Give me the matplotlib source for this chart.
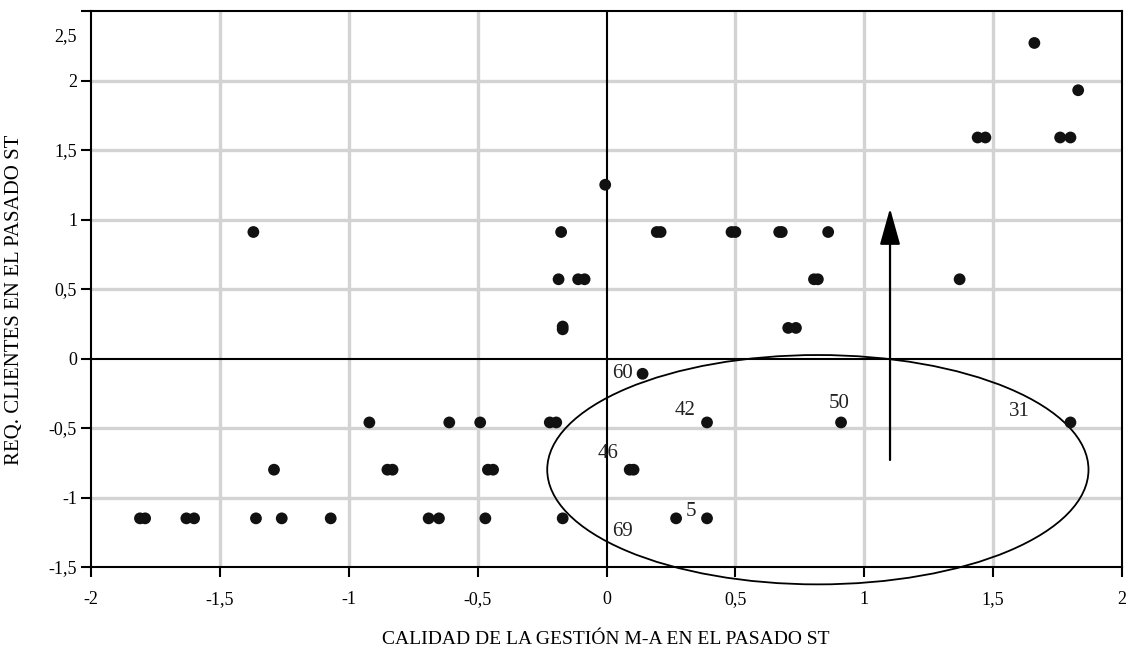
import numpy as np
import matplotlib
matplotlib.use("Agg")
import matplotlib.pyplot as plt
from matplotlib.patches import Ellipse
from matplotlib.transforms import ScaledTranslation

## Scatter data
gestion = [-1.81, -1.79, -1.63, -1.60, -1.36, -1.26, -1.07,
           -1.29, -1.37, -0.92, -0.85, -0.83, -0.61, -0.49,
           -0.46, -0.44, -0.69, -0.65, -0.47, -0.22, -0.195, -0.17,
           0.09, 0.105, 0.27, 0.39, 0.39, 0.91, 1.80, 0.14,
           -0.005, -0.176, 0.195, 0.21, 0.485, 0.50, 0.67, 0.68, 0.86,
           -0.186, -0.11, -0.085, 0.805, 0.82, -0.17, -0.17, 0.705, 0.735,
           1.37, 1.44, 1.47, 1.76, 1.80, 1.83, 1.66]
clientes = [-1.15, -1.15, -1.15, -1.15, -1.15, -1.15, -1.15,
            -0.80, 0.91, -0.46, -0.80, -0.80, -0.46, -0.46,
            -0.80, -0.80, -1.15, -1.15, -1.15, -0.46, -0.46, -1.15,
            -0.80, -0.80, -1.15, -1.15, -0.46, -0.46, -0.46, -0.11,
            1.25, 0.91, 0.91, 0.91, 0.91, 0.91, 0.91, 0.91, 0.91,
            0.57, 0.57, 0.57, 0.57, 0.57, 0.21, 0.23, 0.22, 0.22,
            0.57, 1.59, 1.59, 1.59, 1.59, 1.93, 2.27]

## Case numbers written next to some points
etiquetas = ["60", "42", "46", "5", "69", "50", "31"]
etiq_x = [0.062, 0.303, 0.005, 0.329, 0.063, 0.904, 1.602]
etiq_y = [-0.106, -0.376, -0.682, -1.102, -1.246, -0.322, -0.383]

## Ellipse round the highlighted group and the arrow
elipse_centro = (0.82, -0.80)
elipse_ancho = 2.10
elipse_alto = 1.65
flecha_x = 1.10
flecha_desde = -0.73
flecha_hasta = 1.08

ticks_x = [-2, -1.5, -1, -0.5, 0, 0.5, 1, 1.5, 2]
ticks_x_txt = ["-2", "-1,5", "-1", "-0,5", "0", "0,5", "1", "1,5", "2"]
ticks_y = [-1.5, -1, -0.5, 0, 0.5, 1, 1.5, 2, 2.5]
ticks_y_txt = ["-1,5", "-1", "-0,5", "0", "0,5", "1", "1,5", "2", "2,5"]

plt.rcParams['font.family'] = ['Liberation Serif', 'DejaVu Serif']

fig = plt.figure(figsize=(11.3, 6.58), dpi=100)
ax = fig.add_axes([91/1130, 1-567/658, (1122-91)/1130, (567-11)/658])

ax.set_xlim(-2, 2)
ax.set_ylim(-1.5, 2.5)

## gray grid, black zero lines
for v in ticks_x[1:-1]:
    if v != 0:
        ax.axvline(v, color='#d3d3d3', lw=2.4, zorder=1)
for v in ticks_y[1:-1]:
    if v != 0:
        ax.axhline(v, color='#d3d3d3', lw=2.4, zorder=1)
ax.axvline(0, color='black', lw=1.5, zorder=2)
ax.axhline(0, color='black', lw=1.5, zorder=2)

ax.scatter(gestion, clientes, s=72, color='#111111', edgecolors='none', zorder=4)

for t, xx, yy in zip(etiquetas, etiq_x, etiq_y):
    ax.text(xx, yy, t, fontsize=15, ha='center', va='center', color='#222222', zorder=5)

ax.add_patch(Ellipse(elipse_centro, elipse_ancho, elipse_alto, fill=False,
                     edgecolor='black', lw=1.3, zorder=3, clip_on=False))

ax.annotate('', xy=(flecha_x, flecha_hasta), xytext=(flecha_x, flecha_desde),
            arrowprops=dict(arrowstyle='-|>,head_length=1.5,head_width=0.42',
                            mutation_scale=15, lw=1.6, color='black',
                            shrinkA=0, shrinkB=0), zorder=5)

for s in ax.spines.values():
    s.set_color('black')
    s.set_linewidth(1.5)

ax.set_xticks(ticks_x)
ax.set_xticklabels(ticks_x_txt)
ax.set_yticks(ticks_y)
ax.set_yticklabels(ticks_y_txt)
ax.tick_params(axis='both', direction='out', length=7, width=1.5, labelsize=13)
ax.tick_params(axis='x', pad=10)
ax.tick_params(axis='y', pad=3)

## top label sits a bit lower in the original
lab = ax.get_yticklabels()[-1]
lab.set_transform(lab.get_transform() + ScaledTranslation(0, -0.24, fig.dpi_scale_trans))

fig.text(606/1130, 1-640/658, "CALIDAD DE LA GESTIÓN M-A EN EL PASADO ST",
         ha='center', va='center', fontsize=14)
fig.text(15/1130, 1-300/658, "REQ. CLIENTES EN EL PASADO ST",
         ha='center', va='center', rotation=90, fontsize=15)

fig.savefig("out.png", dpi=100)
